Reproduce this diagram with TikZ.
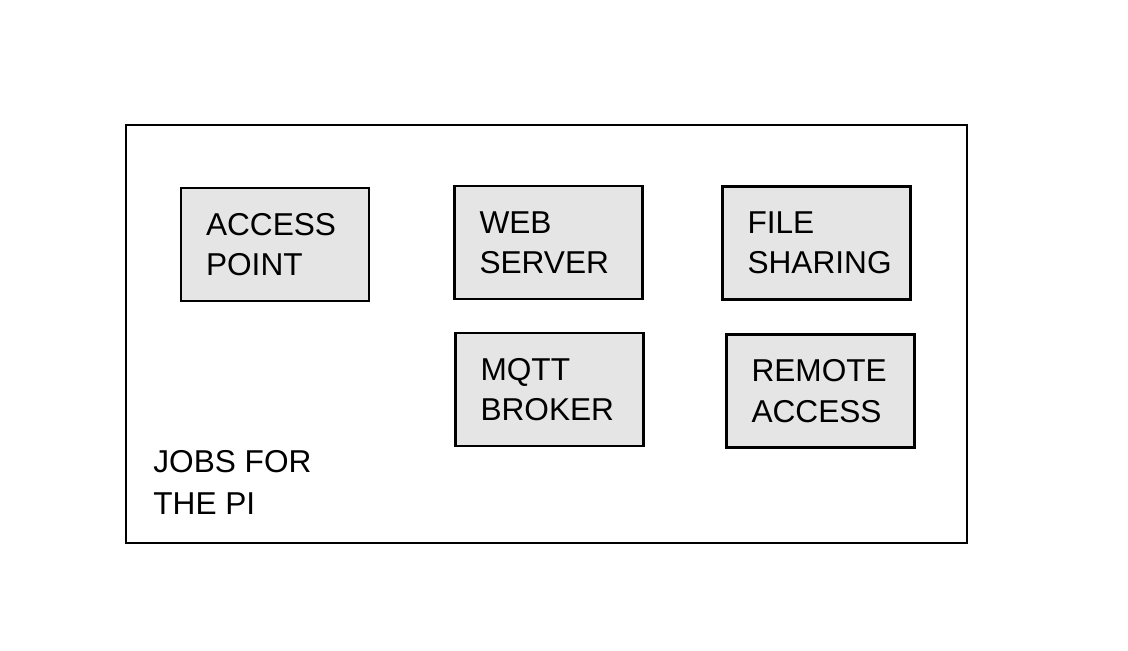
\documentclass[tikz,border=0pt]{standalone}
\usepackage{fontspec}
\setmainfont{Liberation Sans}

\tikzset{
  job/.style={draw, line width=1.6pt, fill=black!10, minimum width=3.76cm, minimum height=2.26cm,
    inner xsep=0.5cm, text width=2.76cm, align=left, font=\fontsize{18}{23}\selectfont},
  frame/.style={draw, line width=1.6pt, minimum width=16.82cm, minimum height=8.36cm}
}

\begin{document}
\begin{tikzpicture}[x=0.02cm, y=-0.02cm]
\useasboundingbox (0,0) rectangle (1128,650);

\node[frame] (pi) at (546.5,334) {};

\node[job] (ap) at (275,244.5) {ACCESS\\POINT};
\node[job] (web) at (548.5,242.5) {WEB\\SERVER};
\node[job] (files) at (816.5,243) {FILE\\SHARING};
\node[job] (mqtt) at (549.5,389.5) {MQTT\\BROKER};
\node[job] (remote) at (820.5,391) {REMOTE\\ACCESS};

\node[anchor=north west, align=left, inner sep=0pt, font=\fontsize{18}{24}\selectfont] (title) at (153,450) {JOBS FOR\\THE PI};
\end{tikzpicture}
\end{document}
